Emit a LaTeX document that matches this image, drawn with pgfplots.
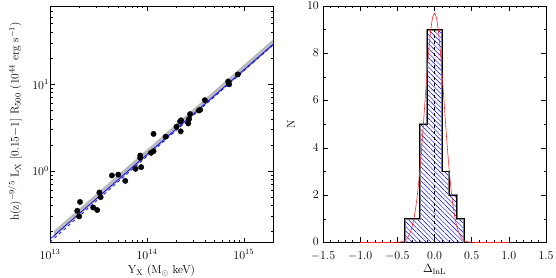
\documentclass[border=0pt]{standalone}
\usepackage{fontspec}
\usepackage{pgfplots}
\pgfplotsset{compat=1.18}
\usetikzlibrary{patterns.meta}
\pgfplotsset{
  every tick label/.append style={font=\fontsize{12}{14}\selectfont, inner sep=1pt},
  every axis label/.append style={font=\fontsize{11.5}{13}\selectfont},
}
\begin{document}
\begin{tikzpicture}[x=1pt,y=1pt]
\useasboundingbox (0,0) rectangle (556,278);
\begin{axis}[
  at={(50pt,35.5pt)}, anchor=south west,
  scale only axis, width=223pt, height=236.5pt,
  xmode=log, ymode=log,
  xmin=1e13, xmax=2e15, ymin=0.15, ymax=80,
  major tick length=5pt, minor tick length=2.5pt,
  tick style={black, line width=0.5pt},
  axis line style={line width=0.5pt},
  xticklabel style={yshift=-6pt},
  yticklabel style={xshift=0pt},
  xlabel={Y$_{\rm X}$ (M$_\odot$ keV)},
  ylabel={h(z)$^{-9/5}$ L$_{\rm X}$ [0.15$-$1] R$_{500}$ (10$^{44}$ erg s$^{-1}$)},
  xlabel style={at={(axis description cs:0.5,0)}, anchor=north, inner sep=0pt, yshift=-22pt},
  ylabel style={at={(axis description cs:-0.157,0.512)}, anchor=center},
  clip=true,
]
% gray band
\addplot[fill=gray!55, draw=none] coordinates {(1.1e13,0.172) (2e15,27.6) (2e15,32.9) (1.1e13,0.205)} -- cycle;
% dashed fit
\addplot[blue, dashed, line width=0.7pt] coordinates {(1e13,0.152) (2e15,28.5)};
% solid fit
\addplot[blue, line width=0.7pt] coordinates {(1e13,0.164) (2e15,28.9)};
% data
\addplot[only marks, mark=*, mark size=2.7pt, black] coordinates {
(1.91e13,0.348) (2.04e13,0.44) (2.0e13,0.30) (2.79e13,0.38) (3.07e13,0.355)
(3.23e13,0.566) (3.33e13,0.50) (4.35e13,0.89) (5.06e13,0.91) (5.98e13,0.77)
(7.64e13,1.06) (8.53e13,1.51) (8.53e13,1.42) (8.73e13,1.11) (1.10e14,1.62)
(1.17e14,1.69) (1.17e14,2.68) (1.56e14,2.49) (2.02e14,3.25) (2.20e14,3.73)
(2.23e14,2.87) (2.25e14,3.85) (2.67e14,3.54) (2.72e14,3.98) (2.79e14,4.54)
(3.43e14,4.99) (3.54e14,5.08) (3.96e14,6.56) (6.89e14,10.8) (7.05e14,10.0)
(8.67e14,13.0)};
\end{axis}
\begin{axis}[
  at={(323pt,35.5pt)}, anchor=south west,
  scale only axis, width=223pt, height=236.5pt,
  xmin=-1.5, xmax=1.5, ymin=0, ymax=10,
  xtick={-1.5,-1,...,1.5}, ytick={0,2,...,10},
  minor x tick num=4, minor y tick num=1,
  major tick length=5pt, minor tick length=2.5pt,
  tick style={black, line width=0.5pt},
  axis line style={line width=0.5pt},
  xticklabel style={yshift=-8.5pt, /pgf/number format/.cd, fixed, fixed zerofill, precision=1},
  yticklabel style={xshift=-3pt, yshift=0.5pt, /pgf/number format/.cd, fixed, precision=0},
  xlabel={$\Delta_{\rm lnL}$},
  ylabel={N},
  xlabel style={at={(axis description cs:0.5,0)}, anchor=north, inner sep=0pt, yshift=-22pt},
  ylabel style={at={(axis description cs:-0.1435,0.5)}, anchor=center},
]
\addplot[draw=none, pattern={Lines[angle=-45, distance=3.3pt, line width=0.45pt]}, pattern color=blue] coordinates {
(-0.4,0) (-0.4,1) (-0.2,1) (-0.2,5) (-0.1,5) (-0.1,9) (0.1,9) (0.1,3) (0.2,3) (0.2,2) (0.3,2) (0.3,1) (0.4,1) (0.4,0)} -- cycle;
\addplot[gray, line width=1.8pt] coordinates {
(-0.4,0) (-0.4,1) (-0.2,1) (-0.2,5) (-0.1,5) (-0.1,9) (0.1,9) (0.1,3) (0.2,3) (0.2,2) (0.3,2) (0.3,1) (0.4,1) (0.4,0)};
\addplot[black, line width=0.8pt] coordinates {
(-0.4,0) (-0.4,1) (-0.2,1) (-0.2,5) (-0.1,5) (-0.1,9) (0.1,9) (0.1,3) (0.2,3) (0.2,2) (0.3,2) (0.3,1) (0.4,1) (0.4,0)};
\addplot[black, dashed, line width=0.6pt] coordinates {(0,0) (0,9)};
\addplot[red!85, line width=0.6pt, smooth, tension=0.3] coordinates {
(-1.0,0) (-0.6,0) (-0.5,0.006) (-0.45,0.024) (-0.4,0.085) (-0.375,0.151) (-0.35,0.26) (-0.325,0.43) (-0.3,0.68)
(-0.275,1.04) (-0.25,1.53) (-0.225,2.17) (-0.2,2.97) (-0.175,3.92) (-0.15,4.98) (-0.125,6.11)
(-0.1,7.22) (-0.075,8.21) (-0.05,9.01) (-0.025,9.52) (0,9.7)
(0.025,9.52) (0.05,9.01) (0.075,8.21) (0.1,7.22) (0.125,6.11) (0.15,4.98) (0.175,3.92)
(0.2,2.97) (0.225,2.17) (0.25,1.53) (0.275,1.04) (0.3,0.68) (0.325,0.43) (0.35,0.26)
(0.375,0.151) (0.4,0.085) (0.45,0.024) (0.5,0.006) (0.6,0) (1.0,0)};
\end{axis}
\end{tikzpicture}
\end{document}
